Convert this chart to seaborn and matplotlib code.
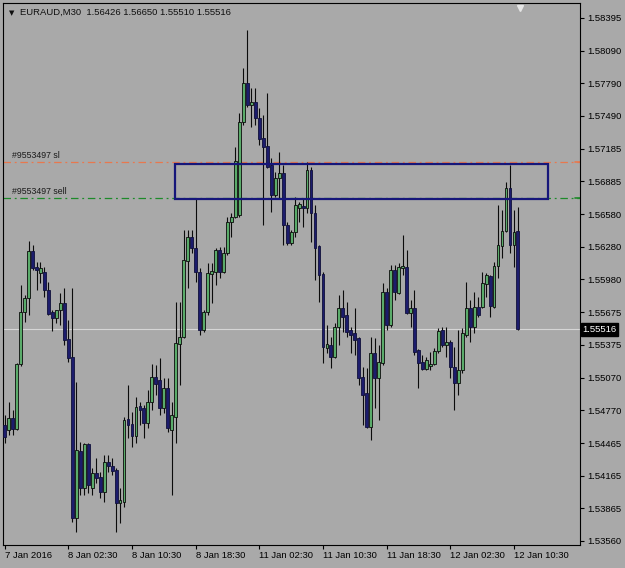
import matplotlib
matplotlib.use("Agg")
import matplotlib.pyplot as plt
import matplotlib.transforms as mtransforms
from matplotlib.patches import Rectangle
import numpy as np
import seaborn as sns

# ---- data (EURAUD M30) ----
chart_title = "EURAUD,M30  1.56426 1.56650 1.55510 1.55516"

bar_open = [
    1.54632, 1.54586, 1.54697, 1.54595, 1.55196, 1.55677, 1.55806, 1.56241, 1.56092, 1.56037,
    1.56047, 1.55880, 1.55677, 1.55621, 1.55695, 1.55760, 1.55427, 1.55260, 1.53772, 1.54392,
    1.54050, 1.54456, 1.54050, 1.54188, 1.54151, 1.54013, 1.54291, 1.54254, 1.54216, 1.53911,
    1.53921, 1.54688, 1.54641, 1.54531, 1.54808, 1.54789, 1.54650, 1.54845, 1.55076, 1.55048,
    1.54789, 1.54974, 1.54586, 1.54706, 1.55381, 1.55445, 1.56148, 1.56370, 1.56268, 1.56047,
    1.55510, 1.55677, 1.56028, 1.56047, 1.56250, 1.56047, 1.56222, 1.56509, 1.56555, 1.56574,
    1.57434, 1.57793, 1.57591, 1.57619, 1.57470, 1.57285, 1.57212, 1.57036, 1.56759, 1.56915,
    1.56961, 1.56481, 1.56314, 1.56417, 1.56638, 1.56657, 1.56638, 1.56989, 1.56592, 1.56287,
    1.56028, 1.55344, 1.55372, 1.55260, 1.55538, 1.55714, 1.55649, 1.55510, 1.55482, 1.55436,
    1.55076, 1.54928, 1.54613, 1.55297, 1.55067, 1.55205, 1.55862, 1.55557, 1.56065, 1.55852,
    1.56083, 1.56092, 1.55667, 1.55714, 1.55325, 1.55215, 1.55150, 1.55178, 1.55196, 1.55316,
    1.55510, 1.55372, 1.55400, 1.55168, 1.55020, 1.55141, 1.55464, 1.55714, 1.55538, 1.55723,
    1.55723, 1.55936, 1.56010, 1.55723, 1.56102, 1.56287, 1.56426, 1.56823, 1.56296, 1.56426,
]
bar_high = [
    1.54725, 1.54845, 1.54771, 1.55205, 1.55927, 1.55834, 1.56333, 1.56296, 1.56139, 1.56139,
    1.56092, 1.55955, 1.55695, 1.55695, 1.55852, 1.55899, 1.55603, 1.55899, 1.55030, 1.54475,
    1.54465, 1.54465, 1.54235, 1.54327, 1.54198, 1.54355, 1.54355, 1.54327, 1.54235, 1.54050,
    1.54706, 1.55002, 1.54753, 1.54891, 1.54845, 1.54817, 1.54956, 1.55196, 1.55187, 1.55251,
    1.55067, 1.55067, 1.54845, 1.55770, 1.55770, 1.56435, 1.56435, 1.56435, 1.56731, 1.56083,
    1.55695, 1.56129, 1.56129, 1.56268, 1.56277, 1.56277, 1.56555, 1.56592, 1.57202, 1.57516,
    1.57932, 1.58284, 1.57747, 1.57747, 1.57563, 1.57498, 1.57701, 1.57100, 1.56971, 1.57156,
    1.57036, 1.56509, 1.56435, 1.56740, 1.56694, 1.56731, 1.57064, 1.57017, 1.56666, 1.56296,
    1.56047, 1.55557, 1.55445, 1.55575, 1.55834, 1.55880, 1.55770, 1.55538, 1.55714, 1.55445,
    1.55168, 1.55159, 1.55445, 1.55436, 1.55372, 1.55945, 1.55899, 1.56111, 1.56111, 1.56129,
    1.56389, 1.56250, 1.55788, 1.55880, 1.55335, 1.55279, 1.55260, 1.55307, 1.55344, 1.55529,
    1.55538, 1.55538, 1.55418, 1.55353, 1.55510, 1.55529, 1.55955, 1.55788, 1.55862, 1.55815,
    1.56047, 1.56037, 1.56019, 1.56139, 1.56666, 1.56620, 1.56879, 1.57036, 1.56620, 1.56650,
]
bar_low = [
    1.54465, 1.54540, 1.54540, 1.54586, 1.55178, 1.55585, 1.55649, 1.56065, 1.55880, 1.55945,
    1.55815, 1.55649, 1.55501, 1.55575, 1.55557, 1.55372, 1.55215, 1.53736, 1.53643, 1.53985,
    1.53985, 1.54003, 1.53985, 1.54096, 1.53957, 1.53921, 1.54198, 1.54170, 1.53643, 1.53726,
    1.53874, 1.54512, 1.54428, 1.54465, 1.54632, 1.54512, 1.54604, 1.54771, 1.54910, 1.54725,
    1.54743, 1.54568, 1.53985, 1.54465, 1.55002, 1.55436, 1.55899, 1.56222, 1.55955, 1.55464,
    1.55492, 1.55649, 1.55760, 1.55927, 1.55991, 1.56037, 1.56204, 1.56370, 1.56546, 1.56555,
    1.57406, 1.57572, 1.57387, 1.57406, 1.57221, 1.56481, 1.57008, 1.56602, 1.56740, 1.56731,
    1.56296, 1.56296, 1.56296, 1.56370, 1.56509, 1.56462, 1.56592, 1.56324, 1.55973, 1.55770,
    1.55205, 1.55297, 1.55159, 1.55251, 1.55372, 1.55492, 1.55445, 1.55297, 1.55279, 1.55002,
    1.54632, 1.54604, 1.54493, 1.54789, 1.54678, 1.55187, 1.55510, 1.55538, 1.55788, 1.55843,
    1.56019, 1.55658, 1.55538, 1.55279, 1.54974, 1.55141, 1.55141, 1.55141, 1.55187, 1.55297,
    1.55353, 1.55260, 1.55067, 1.54771, 1.54910, 1.55113, 1.55445, 1.55400, 1.55482, 1.55630,
    1.55714, 1.55815, 1.55630, 1.55714, 1.55991, 1.56176, 1.56417, 1.56222, 1.56092, 1.55510,
]
bar_close = [
    1.54521, 1.54697, 1.54595, 1.55196, 1.55677, 1.55806, 1.56241, 1.56083, 1.56065, 1.56083,
    1.55880, 1.55658, 1.55621, 1.55695, 1.55760, 1.55418, 1.55251, 1.53772, 1.54401, 1.54050,
    1.54456, 1.54078, 1.54188, 1.54142, 1.54013, 1.54291, 1.54254, 1.54207, 1.53911, 1.53939,
    1.54678, 1.54632, 1.54531, 1.54798, 1.54771, 1.54650, 1.54845, 1.55076, 1.55011, 1.54789,
    1.54974, 1.54604, 1.54725, 1.55390, 1.55445, 1.56157, 1.56370, 1.56268, 1.56047, 1.55510,
    1.55677, 1.56037, 1.56056, 1.56250, 1.56047, 1.56222, 1.56509, 1.56555, 1.57073, 1.57434,
    1.57793, 1.57591, 1.57619, 1.57470, 1.57276, 1.57202, 1.57017, 1.56759, 1.56915, 1.56961,
    1.56481, 1.56314, 1.56417, 1.56666, 1.56675, 1.56638, 1.56989, 1.56592, 1.56268, 1.56019,
    1.55353, 1.55381, 1.55260, 1.55538, 1.55714, 1.55630, 1.55492, 1.55464, 1.55418, 1.55067,
    1.54910, 1.54613, 1.55297, 1.55067, 1.55215, 1.55862, 1.55557, 1.56065, 1.55862, 1.56092,
    1.56102, 1.55667, 1.55714, 1.55307, 1.55205, 1.55150, 1.55233, 1.55196, 1.55316, 1.55501,
    1.55372, 1.55400, 1.55168, 1.55020, 1.55141, 1.55482, 1.55714, 1.55538, 1.55723, 1.55649,
    1.55945, 1.56019, 1.55733, 1.56102, 1.56296, 1.56426, 1.56823, 1.56296, 1.56417, 1.55516,
]

time_tick_bars = [0, 16, 32, 48, 64, 80, 96, 112, 128]
time_labels = ["7 Jan 2016", "8 Jan 02:30", "8 Jan 10:30", "8 Jan 18:30", "11 Jan 02:30",
               "11 Jan 10:30", "11 Jan 18:30", "12 Jan 02:30", "12 Jan 10:30"]
price_ticks = [1.58395, 1.58090, 1.57790, 1.57490, 1.57185, 1.56885, 1.56580, 1.56280, 1.55980,
               1.55675, 1.55375, 1.55070, 1.54770, 1.54465, 1.54165, 1.53865, 1.53560]

bid_price = 1.55516
sl_price = 1.57064
sell_price = 1.56731
order_names = ["#9553497 sl", "#9553497 sell"]
zone_bars = [42.8, 136.5]       # start / end of drawn rectangle (bar index)
zone_prices = [1.56722, 1.57045]  # bottom / top of rectangle

# ---- style ----
BG = "#a9a9a9"
BULL = "#5aab6a"
BEAR = "#1c1c6c"
SL_COL = "#e8784e"
SELL_COL = "#1e8a2a"
BOX_COL = "#16167a"

sns.set_theme(style="ticks", rc={"axes.facecolor": BG, "figure.facecolor": BG,
                                 "axes.edgecolor": "black", "axes.linewidth": 0.8})
plt.rcParams["font.family"] = ["Liberation Sans", "DejaVu Sans"]

fig = plt.figure(figsize=(6.25, 5.68), dpi=100)
ax = fig.add_axes([3 / 625, 23 / 568, 577 / 625, 542 / 568])

o = np.array(bar_open)
h = np.array(bar_high)
l = np.array(bar_low)
c = np.array(bar_close)
x = np.arange(len(o))
up = c >= o
body_low = np.minimum(o, c)
body_h = np.maximum(np.abs(c - o), 0.00002)

# candles
ax.vlines(x, l, h, color="#0b0b0b", lw=0.8, zorder=2)
ax.bar(x[up], body_h[up], bottom=body_low[up], width=0.72, color=BULL,
       edgecolor="#0b0b0b", linewidth=0.6, zorder=3)
ax.bar(x[~up], body_h[~up], bottom=body_low[~up], width=0.72, color=BEAR,
       edgecolor="#10103a", linewidth=0.6, zorder=3)

# bid line + order levels
ax.axhline(bid_price, color="#d6d6d6", lw=0.8, zorder=1)
ax.axhline(sl_price, color=SL_COL, lw=0.9, ls=(0, (6, 3, 1.5, 3)), zorder=1)
ax.axhline(sell_price, color=SELL_COL, lw=0.9, ls=(0, (6, 3, 1.5, 3)), zorder=1)

trans = mtransforms.blended_transform_factory(ax.transAxes, ax.transData)
ax.text(0.015, sl_price + 0.00015, order_names[0], transform=trans, fontsize=6.3,
        color="#1a1a1a", va="bottom", ha="left")
ax.text(0.015, sell_price + 0.00015, order_names[1], transform=trans, fontsize=6.3,
        color="#1a1a1a", va="bottom", ha="left")
ax.plot([0.991, 1.0], [sl_price, sl_price], transform=trans, color=SL_COL, lw=1.2)
ax.plot([0.991, 1.0], [sell_price, sell_price], transform=trans, color=SELL_COL, lw=1.2)

# rectangle object
ax.add_patch(Rectangle((zone_bars[0], zone_prices[0]), zone_bars[1] - zone_bars[0],
                       zone_prices[1] - zone_prices[0], fill=False, ec=BOX_COL, lw=1.6, zorder=4))

# current price label on the price scale
ax.text(1.004, bid_price, f"{bid_price:.5f}", transform=trans, color="white", fontsize=6.8,
        va="center", ha="left", clip_on=False,
        bbox=dict(boxstyle="square,pad=0.18", fc="black", ec="black"))

# title line and small arrow
ax.text(0.0105, 0.982, "▼", transform=ax.transAxes, fontsize=5, va="center", ha="left",
        family=["DejaVu Sans"], color="#101010")
ax.text(0.0295, 0.982, chart_title, transform=ax.transAxes, fontsize=6.8, va="center",
        ha="left", color="#101010")
ax.plot(0.896, 0.991, marker="v", ms=4.5, color="#e6e6e6", transform=ax.transAxes)

# axes
ax.set_xlim(-0.42, 144.6)
ax.set_ylim(1.53523, 1.58533)
ax.yaxis.tick_right()
ax.set_yticks(price_ticks)
ax.set_yticklabels([f"{p:.5f}" for p in price_ticks])
ax.set_xticks(time_tick_bars)
ax.set_xticklabels(time_labels)
for lab in ax.get_xticklabels():
    lab.set_horizontalalignment("left")
ax.tick_params(axis="both", length=3, width=0.8, colors="black", labelsize=6.8, pad=2)
ax.tick_params(axis="x", pad=1.5)
for sp in ax.spines.values():
    sp.set_color("black")
    sp.set_linewidth(0.8)
ax.grid(False)

fig.savefig("out.png", dpi=100, facecolor=BG)
